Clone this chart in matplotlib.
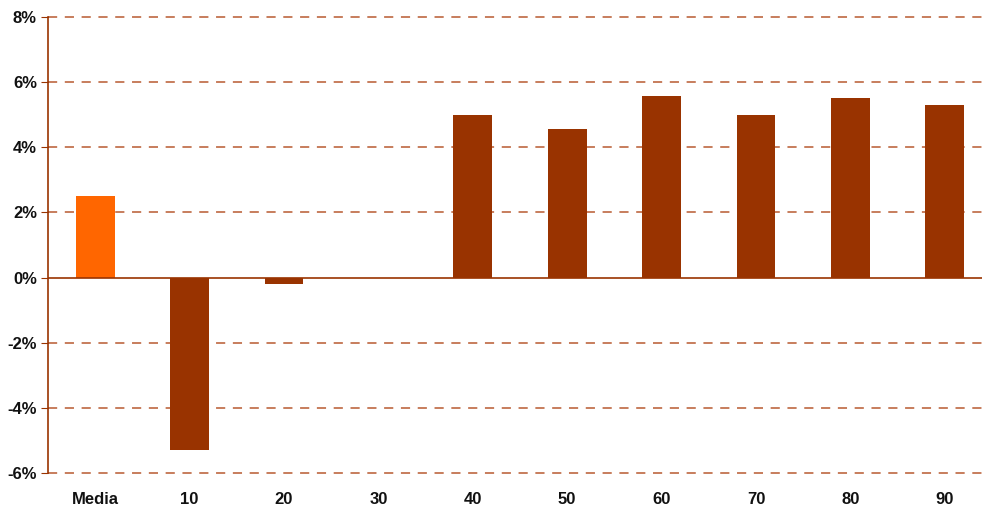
import numpy as np
import matplotlib
matplotlib.use("Agg")
import matplotlib.pyplot as plt
from matplotlib.ticker import FuncFormatter

categories = ["Media", "10", "20", "30", "40", "50", "60", "70", "80", "90"]
values = [2.5, -5.3, -0.2, 0.0, 5.0, 4.55, 5.56, 5.0, 5.5, 5.3]
bar_colors = ["#FF6600"] + ["#993300"] * 9

plt.rcParams["font.family"] = ["Liberation Sans", "DejaVu Sans"]

fig = plt.figure(figsize=(9.82, 5.08), dpi=100)
# l'asse si estende oltre il bordo destro, come nell'originale
ax = fig.add_axes([48 / 982, 35 / 508, 944 / 982, 456 / 508])

x = np.arange(len(categories))
ax.bar(x, values, width=0.41, color=bar_colors, zorder=3)

ax.set_xlim(-0.5, 9.5)
ax.set_ylim(-6, 8)
ax.set_yticks(np.arange(-6, 9, 2))
ax.yaxis.set_major_formatter(FuncFormatter(lambda v, p: "%d%%" % v))

# griglia tratteggiata
for yv in np.arange(-6, 9, 2):
    if yv != 0:
        ax.axhline(yv, color="#B85A30", lw=1.1, ls=(0, (6, 5)), zorder=1, clip_on=False)
ax.axhline(0, color="#993300", lw=1.2, zorder=4)

for s in ["top", "right", "bottom"]:
    ax.spines[s].set_visible(False)
ax.spines["left"].set_color("#993300")
ax.spines["left"].set_linewidth(1.2)

ax.set_xticks(x)
ax.set_xticklabels(categories)
ax.tick_params(axis="x", length=0, pad=14)
ax.tick_params(axis="y", length=5, color="#993300", direction="out", pad=3)
for lbl in ax.get_xticklabels() + ax.get_yticklabels():
    lbl.set_fontweight("bold")
    lbl.set_fontsize(12)
    lbl.set_color("#111111")

fig.savefig("out.png", dpi=100)
